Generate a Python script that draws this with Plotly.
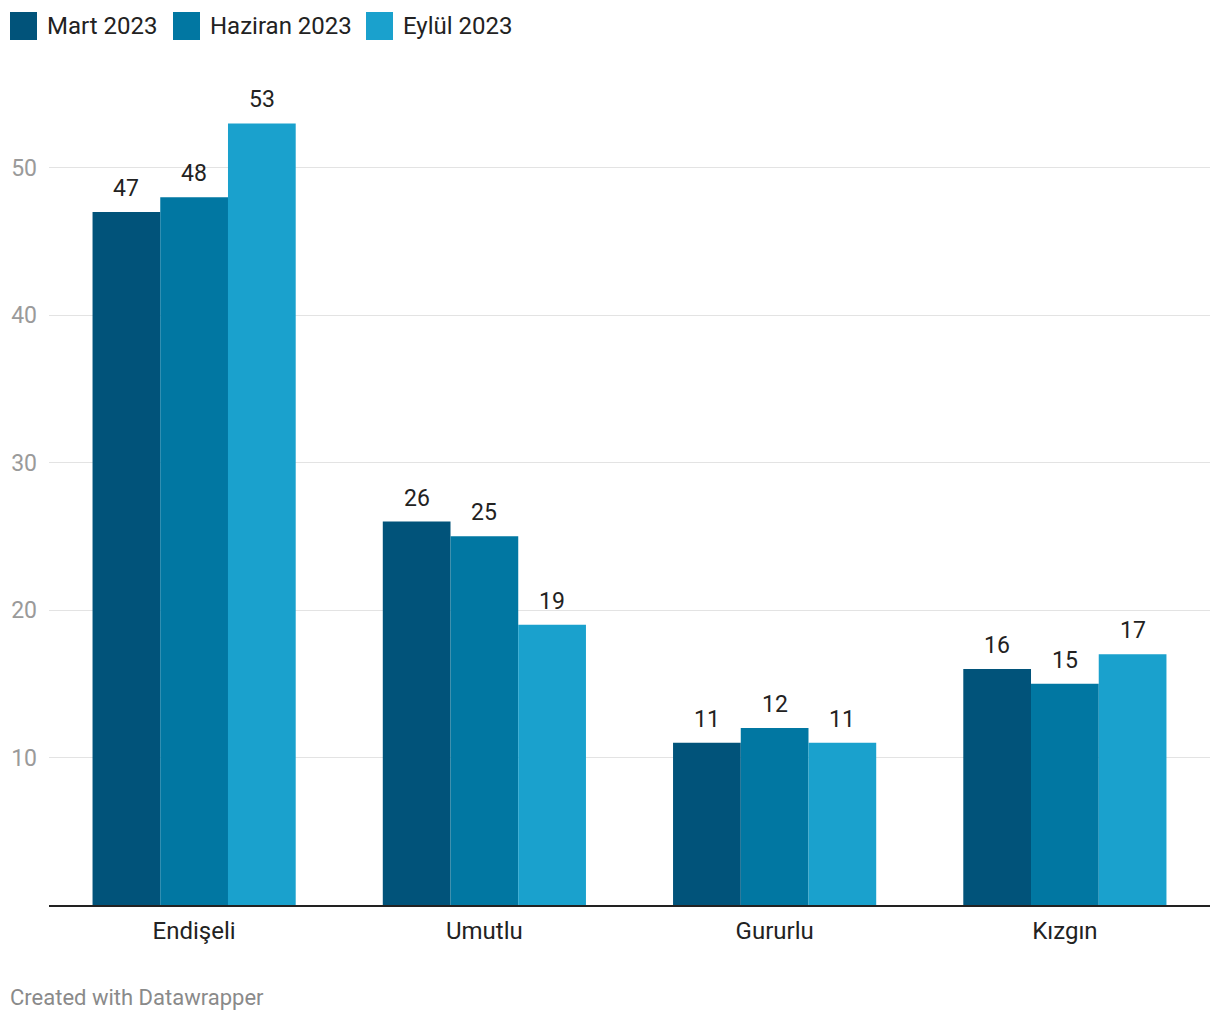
import plotly.graph_objects as go

categories = ["Endişeli", "Umutlu", "Gururlu", "Kızgın"]
series_names = ["Mart 2023", "Haziran 2023", "Eylül 2023"]
mart = [47, 26, 11, 16]
haziran = [48, 25, 12, 15]
eylul = [53, 19, 11, 17]
y_ticks = [10, 20, 30, 40, 50]

colors = ["#01537a", "#0177a2", "#1aa1cd"]
series_values = [mart, haziran, eylul]

# page body has 8px margin; compensate
OFF = 8
W, H = 1220 - OFF, 1020 - OFF
ml, mr, mt, mb = 49 - OFF, 10, 94 - OFF, 115
PW, PH = W - ml - mr, H - mt - mb

fig = go.Figure()
for name, vals, c in zip(series_names, series_values, colors):
    fig.add_trace(go.Bar(x=categories, y=vals, name=name, marker=dict(color=c, line=dict(width=0)),
                         showlegend=False))

bargap = 0.3
bw = (1 - bargap) / 3
for j, vals in enumerate(series_values):
    for i, v in enumerate(vals):
        fig.add_annotation(x=i + (j - 1) * bw, y=v, xref="x", yref="y", text=str(v),
                           showarrow=False, yanchor="bottom", yshift=8,
                           font=dict(size=23, color="#222222", family="Roboto"))

def px_x(x):
    return (x - OFF - ml) / PW

def px_y(y):
    return (H - mb - (y - OFF)) / PH

# Custom legend
legend_x = [10, 173, 366]
for k, (name, c) in enumerate(zip(series_names, colors)):
    x0 = legend_x[k]
    fig.add_shape(type="rect", xref="paper", yref="paper",
                  x0=px_x(x0), x1=px_x(x0 + 27),
                  y0=px_y(40), y1=px_y(12),
                  fillcolor=c, line=dict(width=0), layer="above")
    fig.add_annotation(xref="paper", yref="paper",
                       x=px_x(x0 + 35), y=px_y(26),
                       text=name, showarrow=False, xanchor="left", yanchor="middle",
                       font=dict(size=24, color="#222222", family="Roboto"))

fig.add_annotation(xref="paper", yref="paper", x=px_x(8),
                   y=px_y(997), text="Created with Datawrapper",
                   showarrow=False, xanchor="left", yanchor="middle",
                   font=dict(size=22, color="#8a8a8a", family="Roboto"))

fig.update_layout(
    width=W, height=H,
    margin=dict(l=ml, r=mr, t=mt, b=mb, autoexpand=False),
    barmode="group", bargap=bargap, bargroupgap=0,
    plot_bgcolor="white", paper_bgcolor="white",
    font=dict(family="Roboto", color="#222222"),
    xaxis=dict(showgrid=False, showline=True, linecolor="#222222", linewidth=2,
               tickfont=dict(size=24, color="#222222"), ticks="", ticklabelstandoff=3,
               fixedrange=True, automargin=False),
    yaxis=dict(range=[0, 55], tickvals=y_ticks, showgrid=True, gridcolor="#e3e3e3", gridwidth=1,
               zeroline=False, showline=False, ticks="", automargin=False,
               tickfont=dict(size=23, color="#9a9a9a"), ticklabelstandoff=11),
)

fig.write_html("out.html")
